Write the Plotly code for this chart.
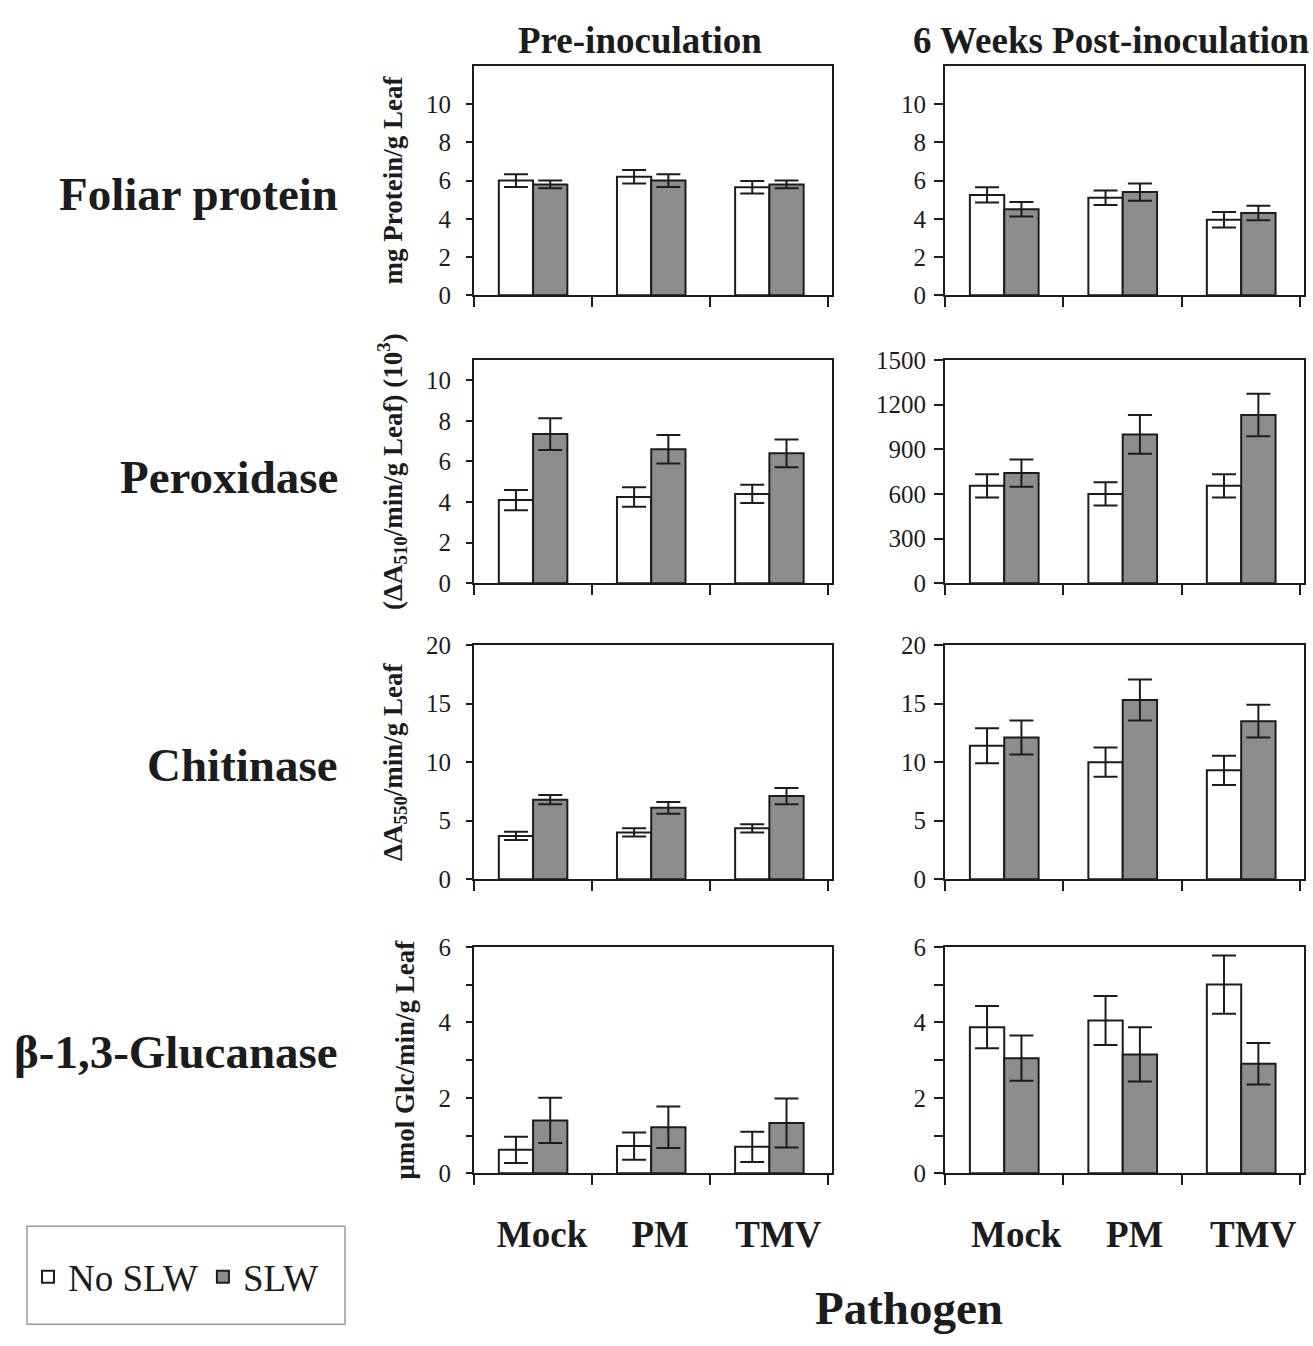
import plotly.graph_objects as go

# ---------------- data ----------------
categories = ["Mock", "PM", "TMV"]
series_names = ["No SLW", "SLW"]

row_labels = ["Foliar protein", "Peroxidase", "Chitinase", "β-1,3-Glucanase"]
col_titles = ["Pre-inoculation", "6 Weeks Post-inoculation"]
y_titles = ["mg Protein/g Leaf",
            "(ΔA<sub>510</sub>/min/g Leaf) (10<sup>3</sup>)",
            "ΔA<sub>550</sub>/min/g Leaf",
            "μmol Glc/min/g Leaf"]
x_title = "Pathogen"

# Foliar protein
foliar_pre_noslw = [6.0, 6.2, 5.65]
foliar_pre_noslw_err = [0.33, 0.35, 0.33]
foliar_pre_slw = [5.8, 6.0, 5.8]
foliar_pre_slw_err = [0.2, 0.33, 0.2]
foliar_post_noslw = [5.25, 5.1, 3.95]
foliar_post_noslw_err = [0.4, 0.38, 0.4]
foliar_post_slw = [4.5, 5.4, 4.3]
foliar_post_slw_err = [0.38, 0.45, 0.38]

# Peroxidase
perox_pre_noslw = [4.1, 4.25, 4.4]
perox_pre_noslw_err = [0.5, 0.48, 0.45]
perox_pre_slw = [7.35, 6.6, 6.4]
perox_pre_slw_err = [0.78, 0.7, 0.68]
perox_post_noslw = [655, 600, 655]
perox_post_noslw_err = [78, 78, 78]
perox_post_slw = [740, 1000, 1130]
perox_post_slw_err = [92, 130, 143]

# Chitinase
chit_pre_noslw = [3.7, 4.0, 4.35]
chit_pre_noslw_err = [0.35, 0.35, 0.35]
chit_pre_slw = [6.8, 6.1, 7.1]
chit_pre_slw_err = [0.4, 0.5, 0.7]
chit_post_noslw = [11.4, 10.0, 9.3]
chit_post_noslw_err = [1.5, 1.25, 1.25]
chit_post_slw = [12.1, 15.3, 13.5]
chit_post_slw_err = [1.45, 1.75, 1.4]

# beta-1,3-Glucanase
gluc_pre_noslw = [0.62, 0.72, 0.7]
gluc_pre_noslw_err = [0.35, 0.36, 0.4]
gluc_pre_slw = [1.4, 1.22, 1.33]
gluc_pre_slw_err = [0.6, 0.55, 0.65]
gluc_post_noslw = [3.87, 4.05, 5.0]
gluc_post_noslw_err = [0.56, 0.65, 0.77]
gluc_post_slw = [3.05, 3.15, 2.9]
gluc_post_slw_err = [0.6, 0.72, 0.55]

# y axis scales / tick labels
foliar_ticks = [0, 2, 4, 6, 8, 10]
perox_pre_ticks = [0, 2, 4, 6, 8, 10]
perox_post_ticks = [0, 300, 600, 900, 1200, 1500]
chit_ticks = [0, 5, 10, 15, 20]
gluc_ticks = [0, 2, 4, 6]
gluc_minor_ticks = [1, 3, 5]

foliar_range = [0, 12]
perox_pre_range = [0, 11]
perox_post_range = [0, 1500]
chit_range = [0, 20]
gluc_range = [0, 6]

# ---------------- build ----------------
panels = [
    # (row, col, noslw, noslw_err, slw, slw_err, yrange, ticks)
    (0, 0, foliar_pre_noslw, foliar_pre_noslw_err, foliar_pre_slw, foliar_pre_slw_err, foliar_range, foliar_ticks),
    (0, 1, foliar_post_noslw, foliar_post_noslw_err, foliar_post_slw, foliar_post_slw_err, foliar_range, foliar_ticks),
    (1, 0, perox_pre_noslw, perox_pre_noslw_err, perox_pre_slw, perox_pre_slw_err, perox_pre_range, perox_pre_ticks),
    (1, 1, perox_post_noslw, perox_post_noslw_err, perox_post_slw, perox_post_slw_err, perox_post_range, perox_post_ticks),
    (2, 0, chit_pre_noslw, chit_pre_noslw_err, chit_pre_slw, chit_pre_slw_err, chit_range, chit_ticks),
    (2, 1, chit_post_noslw, chit_post_noslw_err, chit_post_slw, chit_post_slw_err, chit_range, chit_ticks),
    (3, 0, gluc_pre_noslw, gluc_pre_noslw_err, gluc_pre_slw, gluc_pre_slw_err, gluc_range, gluc_ticks),
    (3, 1, gluc_post_noslw, gluc_post_noslw_err, gluc_post_slw, gluc_post_slw_err, gluc_range, gluc_ticks),
]

W, H = 1313, 1346
col_px = [(474, 832), (945, 1304)]
row_px = [(54, 288), (354, 582), (645, 884), (953, 1184)]

SERIF = "Liberation Serif"
INK = "#1c1c1c"
GREY = "#8d8d90"

fig = go.Figure()
layout = {}

for i, (r, c, a, ae, b, be, yr, yt) in enumerate(panels):
    n = i + 1
    xa = "x" if n == 1 else f"x{n}"
    ya = "y" if n == 1 else f"y{n}"
    show_leg = (n == 1)
    fig.add_trace(go.Bar(
        x=categories, y=a, name=series_names[0], xaxis=xa, yaxis=ya,
        marker=dict(color="white", line=dict(color=INK, width=2)),
        error_y=dict(type="data", array=ae, visible=True, color=INK, thickness=2, width=12),
        showlegend=show_leg, legendgroup="a"))
    fig.add_trace(go.Bar(
        x=categories, y=b, name=series_names[1], xaxis=xa, yaxis=ya,
        marker=dict(color=GREY, line=dict(color=INK, width=2)),
        error_y=dict(type="data", array=be, visible=True, color=INK, thickness=2, width=12),
        showlegend=show_leg, legendgroup="b"))

    x0, x1 = col_px[c]
    y0, y1 = row_px[r]
    bottom = (r == 3)
    xkey = "xaxis" if n == 1 else f"xaxis{n}"
    ykey = "yaxis" if n == 1 else f"yaxis{n}"
    xdict = dict(
        domain=[x0 / W, x1 / W], anchor=ya, type="category",
        range=[-0.5, 2.53], tickson="boundaries", ticks="outside",
        ticklen=10, tickwidth=1.5, tickcolor=INK,
        showline=True, linecolor=INK, linewidth=2, mirror=True,
        showgrid=False, zeroline=False, fixedrange=True,
        showticklabels=bottom,
        tickfont=dict(family=SERIF, size=37, color=INK, weight="bold"),
    )
    if bottom:
        xdict["ticklabelstandoff"] = 27
        xdict["ticklabelshift"] = 9 if c == 0 else 12
    layout[xkey] = xdict

    ydict = dict(
        domain=[1 - y1 / H, 1 - y0 / H], anchor=xa,
        range=yr, tickvals=yt, ticks="outside",
        ticklen=6 if c == 0 else 9, tickwidth=1.5,
        tickcolor=INK, showline=True, linecolor=INK, linewidth=2, mirror=True,
        showgrid=False, zeroline=False, fixedrange=True,
        ticklabelstandoff=10 if c == 0 else 3,
        tickfont=dict(family=SERIF, size=25, color=INK),
    )
    if r == 3:
        ydict["minor"] = dict(tickvals=gluc_minor_ticks, ticks="outside",
                              ticklen=6 if c == 0 else 9,
                              tickwidth=1.5, tickcolor=INK, showgrid=False)
    if c == 0:
        ydict["title"] = dict(text=y_titles[r], standoff=16,
                              font=dict(family=SERIF, size=27, color=INK, weight="bold"))
    layout[ykey] = ydict

annotations = []
row_centers = [185, 473, 767, 1060]
for lbl, yc in zip(row_labels, row_centers):
    annotations.append(dict(
        text=lbl, xref="paper", yref="paper", x=340 / W, y=1 - yc / H,
        xanchor="right", yanchor="middle", showarrow=False,
        font=dict(family=SERIF, size=47, color=INK, weight="bold")))
for t, xc in zip(col_titles, [640, 1111]):
    annotations.append(dict(
        text=t, xref="paper", yref="paper", x=xc / W, y=1 - 28 / H,
        xanchor="center", yanchor="middle", showarrow=False,
        font=dict(family=SERIF, size=37, color=INK, weight="bold")))
annotations.append(dict(
    text=x_title, xref="paper", yref="paper", x=909 / W, y=1 - 1322 / H,
    xanchor="center", yanchor="middle", showarrow=False,
    font=dict(family=SERIF, size=47, color=INK, weight="bold")))

shapes = [dict(type="rect", xref="paper", yref="paper",
               x0=27 / W, x1=345 / W, y0=1 - 1338 / H, y1=1 - 1238 / H,
               line=dict(color="#9a9a9a", width=1.5), fillcolor="rgba(0,0,0,0)")]

fig.update_layout(
    width=W, height=H, margin=dict(l=0, r=0, t=0, b=0),
    paper_bgcolor="white", plot_bgcolor="white",
    barmode="group", bargap=0.42, bargroupgap=0.0,
    showlegend=True,
    legend=dict(orientation="h", x=28 / W, y=1 - 1290 / H, xanchor="left", yanchor="middle",
                bgcolor="rgba(0,0,0,0)", borderwidth=0,
                font=dict(family=SERIF, size=37, color=INK),
                itemwidth=30, tracegroupgap=0),
    annotations=annotations, shapes=shapes,
    **layout,
)

fig.write_html("out.html")
